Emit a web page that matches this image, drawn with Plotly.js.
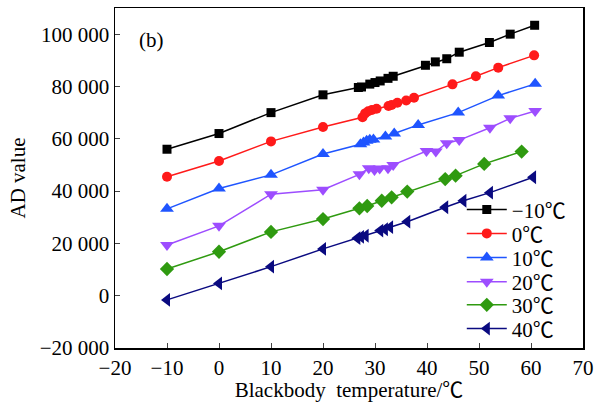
<!DOCTYPE html>
<html>
<head>
<meta charset="utf-8">
<script src="https://cdn.plot.ly/plotly-3.0.1.min.js"></script>
<style>html,body{margin:0;padding:0;background:#fff;}#chart{width:607px;height:402px;}</style>
</head>
<body>
<div id="chart"></div>
<script>
const seriesNames = ["\u221210\u2103", "0\u2103", "10\u2103", "20\u2103", "30\u2103", "40\u2103"];

const xM10 = [-10, 0, 10, 20, 26.8, 27.4, 29, 30, 31, 32.5, 33.5, 39.7, 41.6, 43.8, 46.2, 52, 56, 60.7];
const yM10 = [56000, 62000, 70000, 76800, 79600, 79800, 80900, 81500, 82100, 83100, 83900, 88100, 89400, 90600, 93100, 96800, 100000, 103400];

const x0 = [-10, 0, 10, 20, 27.6, 28.1, 28.7, 29.4, 30.3, 32.6, 33.2, 34.3, 36, 37.5, 44.9, 49.4, 53.7, 60.6];
const y0 = [45500, 51500, 59000, 64500, 68200, 69700, 70500, 71000, 71500, 72500, 72900, 73800, 74600, 75700, 80800, 83900, 87200, 91900];

const x10 = [-10, 0, 10, 20, 27.2, 27.8, 28.4, 29, 29.7, 32, 33.7, 38.3, 46, 53.7, 60.8];
const y10 = [33200, 41000, 46200, 54200, 57900, 58600, 59200, 59600, 59700, 60900, 62000, 65300, 70000, 76500, 81000];

const x20 = [-10, 0, 10, 20, 27, 28.8, 29.9, 30.9, 32.5, 33.5, 39.9, 41.7, 43.8, 46.2, 52.1, 56, 60.8];
const y20 = [19400, 26700, 38800, 40500, 46400, 48700, 48100, 48600, 48700, 50000, 55300, 55100, 58300, 59500, 64200, 67800, 70600];

const x30 = [-10, 0, 10, 20, 27, 28.5, 31.3, 33.2, 36.2, 43.5, 45.5, 51, 58.2];
const y30 = [10200, 16800, 24400, 29300, 33400, 34300, 36300, 37600, 39800, 44600, 45900, 50400, 55100];

const x40 = [-10, 0, 10, 20, 26.6, 27.3, 28.2, 31, 31.9, 32.9, 36.2, 43.5, 47, 52.1, 60.4];
const y40 = [-1600, 4700, 11100, 17900, 22000, 22500, 22900, 24900, 25400, 26200, 28300, 33800, 36300, 39400, 45300];

const xTickVals = [-20, -10, 0, 10, 20, 30, 40, 50, 60, 70];
const yTickVals = [-20000, 0, 20000, 40000, 60000, 80000, 100000];
const yTickText = ["\u221220 000", "0", "20 000", "40 000", "60 000", "80 000", "100 000"];

const colors = ["#000000", "#ff1a1a", "#1f55ff", "#9d4dff", "#2f9a10", "#0a0a80"];
const symbols = ["square", "circle", "triangle-up", "triangle-down", "diamond", "triangle-left"];
const msizes = [9, 10, 12, 12, 11, 12];
const xs = [xM10, x0, x10, x20, x30, x40];
const ys = [yM10, y0, y10, y20, y30, y40];
const legendIds = ["legend", "legend2", "legend3", "legend4", "legend5", "legend6"];
const legendY = [0.406, 0.336, 0.265, 0.194, 0.126, 0.056];

const FONT = "'Liberation Serif', 'Noto Sans CJK SC', serif";
const traces = xs.map((x, i) => ({
  type: "scatter", mode: "lines+markers", x: x, y: ys[i], name: seriesNames[i],
  legend: legendIds[i],
  line: {color: colors[i], width: 1.5},
  marker: {color: colors[i], symbol: symbols[i], size: msizes[i]}
}));

const layout = {
  width: 607, height: 402,
  margin: {l: 115, r: 24, t: 8, b: 54},
  paper_bgcolor: "#fff", plot_bgcolor: "#fff",
  font: {family: FONT, size: 21, color: "#000"},
  showlegend: true,
  xaxis: {range: [-20, 70], tickvals: xTickVals, ticks: "inside", ticklen: 5, tickwidth: 1,
          showline: true, linecolor: "#000", linewidth: 1.5, mirror: true, showgrid: false, zeroline: false,
          tickfont: {family: FONT, size: 21},
          title: {text: "Blackbody  temperature/\u2103", font: {family: FONT, size: 21}, standoff: 0}},
  yaxis: {range: [-20000, 110000], tickvals: yTickVals, ticktext: yTickText, ticks: "inside", ticklen: 5, tickwidth: 1,
          showline: true, linecolor: "#000", linewidth: 1.5, mirror: true, showgrid: false, zeroline: false,
          tickfont: {family: FONT, size: 21},
          title: {text: "AD value", font: {family: FONT, size: 21}, standoff: 8}},
  annotations: [{text: "(b)", xref: "paper", yref: "paper", x: 0.048, y: 0.906, xanchor: "left", yanchor: "middle",
                 showarrow: false, font: {family: FONT, size: 21, color: "#000"}}]
};
legendIds.forEach((id, i) => {
  layout[id] = {x: 0.741, y: legendY[i], xanchor: "left", yanchor: "middle", bgcolor: "rgba(0,0,0,0)",
                itemwidth: 40, font: {family: FONT, size: 21, color: "#000"}};
});

Plotly.newPlot("chart", traces, layout, {displayModeBar: false, staticPlot: true});
</script>
</body>
</html>
